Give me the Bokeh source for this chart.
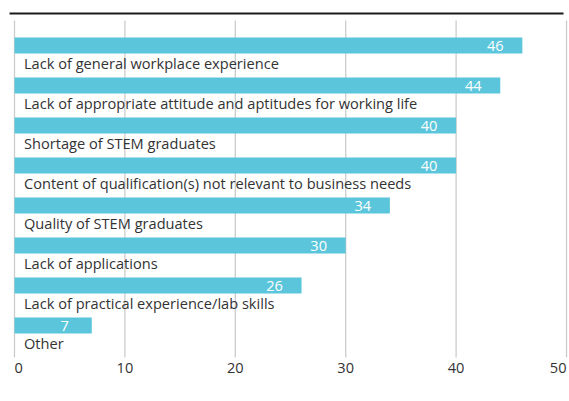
from bokeh.plotting import figure
from bokeh.models import Range1d, ColumnDataSource
from bokeh.core.properties import value
from bokeh.embed import file_html
from bokeh.resources import INLINE

categories = [
    "Lack of general workplace experience",
    "Lack of appropriate attitude and aptitudes for working life",
    "Shortage of STEM graduates",
    "Content of qualification(s) not relevant to business needs",
    "Quality of STEM graduates",
    "Lack of applications",
    "Lack of practical experience/lab skills",
    "Other",
]
values = [46, 44, 40, 40, 34, 30, 26, 7]
tick_values = [0, 10, 20, 30, 40, 50]
tick_labels = ["0", "10", "20", "30", "40", "50"]

FONT = value("Open Sans")
BAR = "#5bc6db"
TXT = "#333333"

n = len(categories)
p = figure(width=569, height=401, output_backend="svg", toolbar_location=None,
           x_axis_location=None, y_axis_location=None,
           x_range=Range1d(-1.268, 50.27), y_range=Range1d(9.1, -0.925),
           min_border=0, outline_line_color=None)
p.xgrid.visible = False
p.ygrid.visible = False

# grid lines
p.segment(x0=tick_values, x1=tick_values, y0=[-0.425] * len(tick_values), y1=[n] * len(tick_values),
          line_color="#cccccc", line_width=1.3)

# top rule
p.segment(x0=[-0.45], x1=[49.73], y0=[-0.6], y1=[-0.6], line_color="#1a1a1a", line_width=1.8)

idx = list(range(n))
src = ColumnDataSource(dict(
    cat=categories, val=values,
    top=[i for i in idx], bottom=[i + 0.4 for i in idx],
    mid=[i + 0.2 for i in idx], lab=[i + 0.64 for i in idx],
    vtxt=[str(v) for v in values], zero=[0] * n,
))

p.quad(left=0, right="val", top="top", bottom="bottom", source=src,
       fill_color=BAR, line_color=None)

p.text(x="val", y="mid", text="vtxt", source=src, text_font=FONT, text_font_size="14.6px",
       text_color="white", text_align="center", text_baseline="middle", x_offset=-27)

p.text(x="zero", y="lab", text="cat", source=src, text_font=FONT, text_font_size="14.6px",
       text_color=TXT, text_align="left", text_baseline="middle", x_offset=9.5)

aligns = ["left"] + ["center"] * (len(tick_values) - 2) + ["right"]
tsrc = ColumnDataSource(dict(x=tick_values, y=[8.25] * len(tick_values), t=tick_labels, a=aligns))
p.text(x="x", y="y", text="t", source=tsrc, text_font=FONT, text_font_size="14.6px",
       text_color=TXT, text_align="a", text_baseline="middle")

open("out.html", "w").write(file_html(p, INLINE))
